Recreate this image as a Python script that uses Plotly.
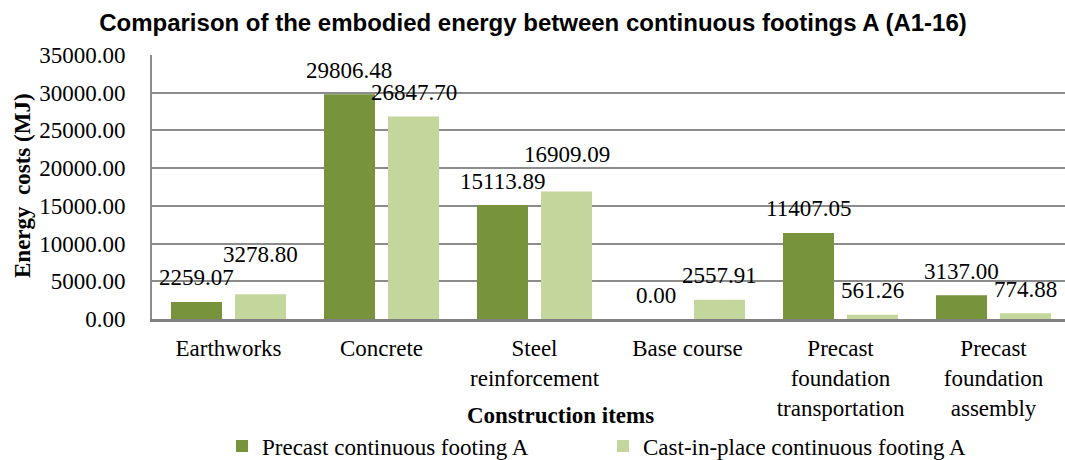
import plotly.graph_objects as go

# Construction items (category axis)
categories = [
    "Earthworks",
    "Concrete",
    "Steel<br>reinforcement",
    "Base course",
    "Precast<br>foundation<br>transportation",
    "Precast<br>foundation<br>assembly",
]

# Embodied energy per item (MJ)
precast = [2259.07, 29806.48, 15113.89, 0.00, 11407.05, 3137.00]
cast_in_place = [3278.80, 26847.70, 16909.09, 2557.91, 561.26, 774.88]

series_names = ["Precast continuous footing A", "Cast-in-place continuous footing A"]
series_colors = ["#77933C", "#C3D69B"]

y_ticks = [0, 5000, 10000, 15000, 20000, 25000, 30000, 35000]

# extra upward nudge (px) for a few value labels that sit higher than the rest
label_lift = [
    [0, 0, 0, 0, 0, 0],
    [16, 0, 13, 0, 0, 0],
]

SERIF = "Liberation Serif, Times New Roman, serif"
SANS = "Liberation Sans, Arial, sans-serif"

W, H = 1065, 460
M_L, M_R, M_T, M_B = 152, 0, 55, 141
X_LO, X_HI = -0.5, 5.467
BARGAP, BARGROUPGAP = 0.163, 0.203

plot_w = W - M_L - M_R
plot_h = H - M_T - M_B
cat_px = plot_w / (X_HI - X_LO)
slot_px = cat_px * (1 - BARGAP) / 2

fig = go.Figure()
all_values = [precast, cast_in_place]
for i, (name, vals, col) in enumerate(zip(series_names, all_values, series_colors)):
    fig.add_trace(go.Bar(
        x=categories, y=vals, name=name,
        marker=dict(color=col, line=dict(width=0)),
        hoverinfo="x+y",
    ))

# value labels above each bar
annotations = []
for i, vals in enumerate(all_values):
    for j, v in enumerate(vals):
        annotations.append(dict(
            x=categories[j], y=v, xref="x", yref="y",
            text=f"{v:.2f}", showarrow=False,
            xshift=(i - 0.5) * slot_px, yshift=24 + label_lift[i][j],
            xanchor="center", yanchor="middle",
            font=dict(family=SERIF, size=23, color="#000000"),
        ))

# axis titles
annotations.append(dict(
    text="<b>Construction items</b>", xref="paper", yref="paper",
    x=(560 - M_L) / plot_w, y=(plot_h - (415 - M_T)) / plot_h,
    xanchor="center", yanchor="middle", showarrow=False,
    font=dict(family=SERIF, size=23, color="#000000"),
))
annotations.append(dict(
    text="<b>Energy\u00a0 costs (MJ)</b>", xref="paper", yref="paper",
    x=(22 - M_L) / plot_w, y=(plot_h - (186 - M_T)) / plot_h,
    xanchor="center", yanchor="middle", textangle=-90, showarrow=False,
    font=dict(family=SERIF, size=23, color="#000000"),
))

fig.update_layout(
    width=W, height=H,
    margin=dict(l=M_L, r=M_R, t=M_T, b=M_B, pad=0, autoexpand=False),
    paper_bgcolor="#ffffff", plot_bgcolor="#ffffff",
    barmode="group", bargap=BARGAP, bargroupgap=BARGROUPGAP,
    title=dict(
        text="<b>Comparison of the embodied energy between continuous footings A (A1-16)</b>",
        x=533 / W, xanchor="center", xref="container",
        y=1 - 23 / H, yanchor="middle", yref="container",
        font=dict(family=SANS, size=24, color="#000000"),
    ),
    showlegend=True,
    legend=dict(
        orientation="h", x=222 / W, xanchor="left", xref="container",
        y=1 - 446 / H, yanchor="middle", yref="container",
        font=dict(family=SERIF, size=23, color="#000000"),
        entrywidth=336, entrywidthmode="pixels",
        bgcolor="rgba(0,0,0,0)", borderwidth=0,
        itemclick=False, itemdoubleclick=False,
    ),
    annotations=annotations,
    xaxis=dict(
        range=[X_LO, X_HI], showgrid=False, zeroline=False,
        showline=True, linecolor="#808080", linewidth=2.5,
        ticks="", ticklabelstandoff=7, automargin=False,
        tickfont=dict(family=SERIF, size=23, color="#000000"),
        fixedrange=True,
    ),
    yaxis=dict(
        range=[0, 35000], tickvals=y_ticks, tickformat=".2f",
        showgrid=True, gridcolor="#8c8c8c", gridwidth=1.5,
        zeroline=False, showline=True, linecolor="#8c8c8c", linewidth=2,
        ticks="", ticklabelstandoff=20, automargin=False,
        tickfont=dict(family=SERIF, size=23, color="#000000"),
        fixedrange=True,
    ),
)

fig.write_html("out.html", config={"displayModeBar": False})
